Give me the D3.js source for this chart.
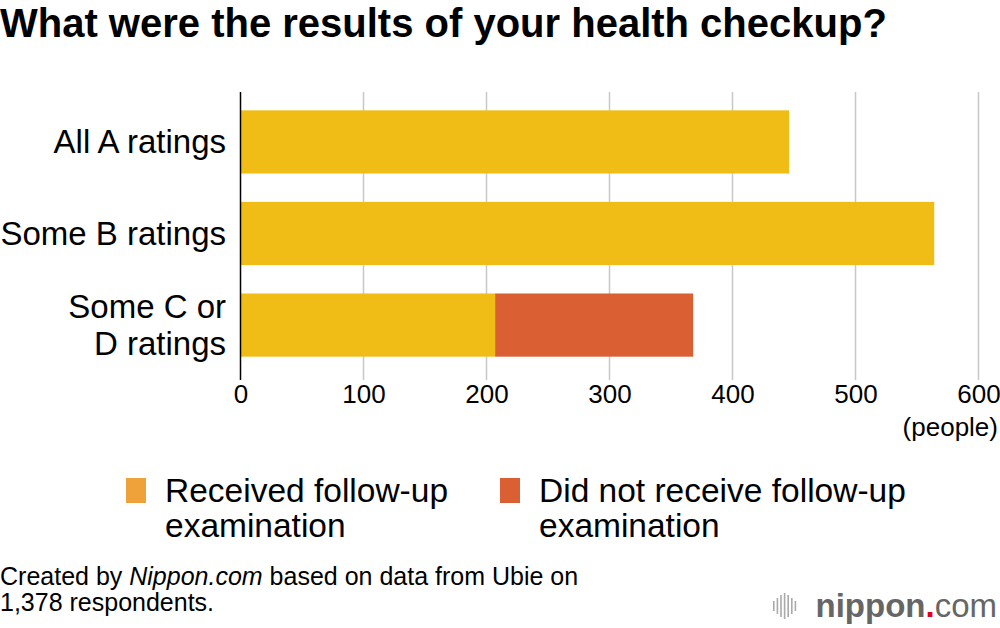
<!DOCTYPE html>
<html><head><meta charset="utf-8">
<script src="https://cdn.jsdelivr.net/npm/d3@7"></script>
<style>body{margin:0;background:#fff}svg{display:block}text{font-family:"Liberation Sans",Arial,Helvetica,sans-serif}</style>
</head><body>
<script>
const categories = [["All A ratings"], ["Some B ratings"], ["Some C or", "D ratings"]];
const received = [446, 564, 207];
const notReceived = [0, 0, 161];
const tickValues = [0, 100, 200, 300, 400, 500, 600];
const seriesNames = [["Received follow-up", "examination"], ["Did not receive follow-up", "examination"]];
const barColors = ["#F0BC16", "#DA5F33"];
const legendColors = ["#F0A23A", "#DA5F33"];

const W = 1000, H = 628;
const svg = d3.select("body").append("svg").attr("width", W).attr("height", H);

svg.append("text").attr("x", 0).attr("y", 37).attr("font-size", 40).attr("font-weight", "bold")
  .attr("fill", "#000").text("What were the results of your health checkup?");

const x = d3.scaleLinear().domain([0, 600]).range([240.5, 978.5]);
const y = d3.scaleBand().domain(d3.range(categories.length)).range([92, 375]).paddingInner(0.31).paddingOuter(0.2);

// gridlines
svg.append("g").selectAll("line").data(tickValues.slice(1)).join("line")
  .attr("x1", d => x(d)).attr("x2", d => x(d)).attr("y1", 92).attr("y2", 380)
  .attr("stroke", "#c8c8c8").attr("stroke-width", 1.5);

// bars
const stacked = categories.map((c, i) => [
  {x0: 0, x1: received[i], c: barColors[0], i},
  {x0: received[i], x1: received[i] + notReceived[i], c: barColors[1], i}
]).flat().filter(d => d.x1 > d.x0);
svg.append("g").selectAll("rect").data(stacked).join("rect")
  .attr("x", d => x(d.x0)).attr("width", d => x(d.x1) - x(d.x0))
  .attr("y", d => y(d.i)).attr("height", y.bandwidth()).attr("fill", d => d.c);

// axis line
svg.append("line").attr("x1", x(0)).attr("x2", x(0)).attr("y1", 92).attr("y2", 380)
  .attr("stroke", "#000").attr("stroke-width", 1.5);

// x axis ticks
const xAxis = d3.axisBottom(x).tickValues(tickValues).tickSize(0).tickPadding(0);
const gx = svg.append("g").attr("transform", "translate(0,385)").call(xAxis);
gx.select(".domain").remove();
gx.selectAll("text").attr("font-size", 26).attr("fill", "#000").attr("dy", "0.71em")
  .attr("font-family", '"Liberation Sans",Arial,sans-serif');
svg.append("text").attr("x", 998).attr("y", 436).attr("text-anchor", "end").attr("font-size", 26)
  .attr("fill", "#000").text("(people)");

// category labels
categories.forEach((lines, i) => {
  const cy = y(i) + y.bandwidth() / 2;
  const lh = 37;
  const t = svg.append("text").attr("text-anchor", "end").attr("font-size", 33).attr("fill", "#000");
  lines.forEach((l, j) => {
    t.append("tspan").attr("x", 226).attr("y", cy + 11 + (j - (lines.length - 1) / 2) * lh).text(l);
  });
});

// legend
const legX = [126, 500];
seriesNames.forEach((lines, i) => {
  svg.append("rect").attr("x", legX[i]).attr("y", 478).attr("width", 20).attr("height", 25).attr("fill", legendColors[i]);
  const t = svg.append("text").attr("font-size", 33.5).attr("fill", "#000");
  lines.forEach((l, j) => t.append("tspan").attr("x", legX[i] + 39).attr("y", 502 + j * 35).text(l));
});

// footer
const f = svg.append("text").attr("font-size", 25).attr("fill", "#000");
f.append("tspan").attr("x", 0).attr("y", 585).text("Created by ");
f.append("tspan").attr("font-style", "italic").text("Nippon.com");
f.append("tspan").text(" based on data from Ubie on");
svg.append("text").attr("font-size", 25).attr("fill", "#000").attr("x", 0).attr("y", 611).text("1,378 respondents.");

// logo
const logo = svg.append("g");
const barH = [10, 16, 22, 26, 22, 16, 10];
barH.forEach((h, i) => {
  logo.append("rect").attr("x", 773 + i * 3.6).attr("y", 606 - h / 2).attr("width", 1.6).attr("height", h).attr("fill", "#aaa");
});
const lt = logo.append("text").attr("x", 997).attr("y", 617).attr("text-anchor", "end").attr("font-size", 33).attr("font-family", '"Open Sans",sans-serif').attr("fill", "#666");
lt.append("tspan").attr("font-weight", "bold").text("nippon");
lt.append("tspan").attr("fill", "#e3001b").attr("font-weight", "bold").text(".");
lt.append("tspan").attr("font-weight", "300").text("com");
</script>
</body></html>
